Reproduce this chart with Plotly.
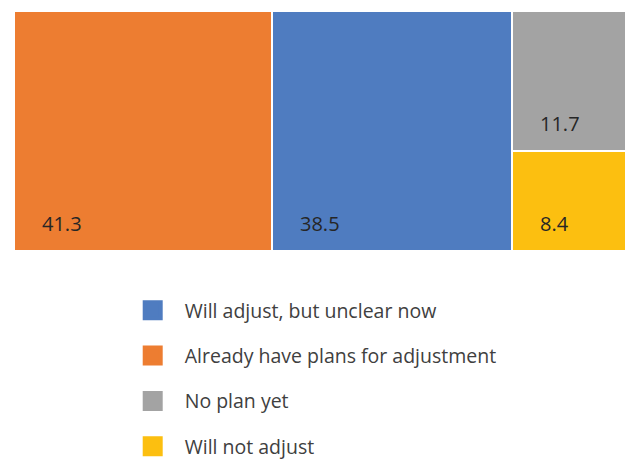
import plotly.graph_objects as go

# Data
labels = ["Already have plans for adjustment", "Will adjust, but unclear now", "No plan yet", "Will not adjust"]
values = [41.3, 38.5, 11.7, 8.4]
colors = ["#ED7D31", "#4F7CC0", "#A3A3A3", "#FCBF10"]
legend_order = [1, 0, 2, 3]

total = sum(values)
last = values[2] + values[3]

# rectangles: first two take full height, last two share one column
x0 = [0, values[0], values[0] + values[1], values[0] + values[1]]
w = [values[0], values[1], last, last]
y0 = [0, 0, values[3] / last, 0]
h = [1, 1, values[2] / last, values[3] / last]

fig = go.Figure()

for i in range(4):
    fig.add_trace(
        go.Bar(
            x=[x0[i] + w[i] / 2],
            y=[h[i]],
            base=[y0[i]],
            width=[w[i]],
            marker=dict(color=colors[i], line=dict(color="white", width=2)),
            showlegend=False,
            hoverinfo="skip",
        )
    )
    fig.add_annotation(
        x=x0[i],
        y=y0[i],
        text=f"{values[i]}",
        showarrow=False,
        xanchor="left",
        yanchor="bottom",
        xshift=26,
        yshift=12,
        font=dict(size=20, color="#262626"),
    )

# legend entries
for k, i in enumerate(legend_order):
    fig.add_trace(
        go.Scatter(
            x=[None],
            y=[None],
            mode="markers",
            marker=dict(symbol="square", size=16, color=colors[i], line=dict(color=colors[i], width=4)),
            name=labels[i],
            legendgroup=str(k),
        )
    )

fig.update_layout(
    width=633,
    height=460,
    margin=dict(l=6, r=3, t=3, b=217, autoexpand=False),
    plot_bgcolor="white",
    paper_bgcolor="white",
    font=dict(family="Open Sans, Noto Sans, sans-serif"),
    bargap=0,
    barmode="overlay",
    legend=dict(
        x=0.171,
        y=-0.1667,
        xanchor="left",
        yanchor="top",
        tracegroupgap=17,
        itemwidth=54,
        font=dict(size=19.5, color="#404040"),
        bgcolor="rgba(0,0,0,0)",
    ),
)
fig.update_xaxes(range=[0, total], visible=False, fixedrange=True)
fig.update_yaxes(range=[0, 1], visible=False, fixedrange=True)

fig.write_html("out.html")
